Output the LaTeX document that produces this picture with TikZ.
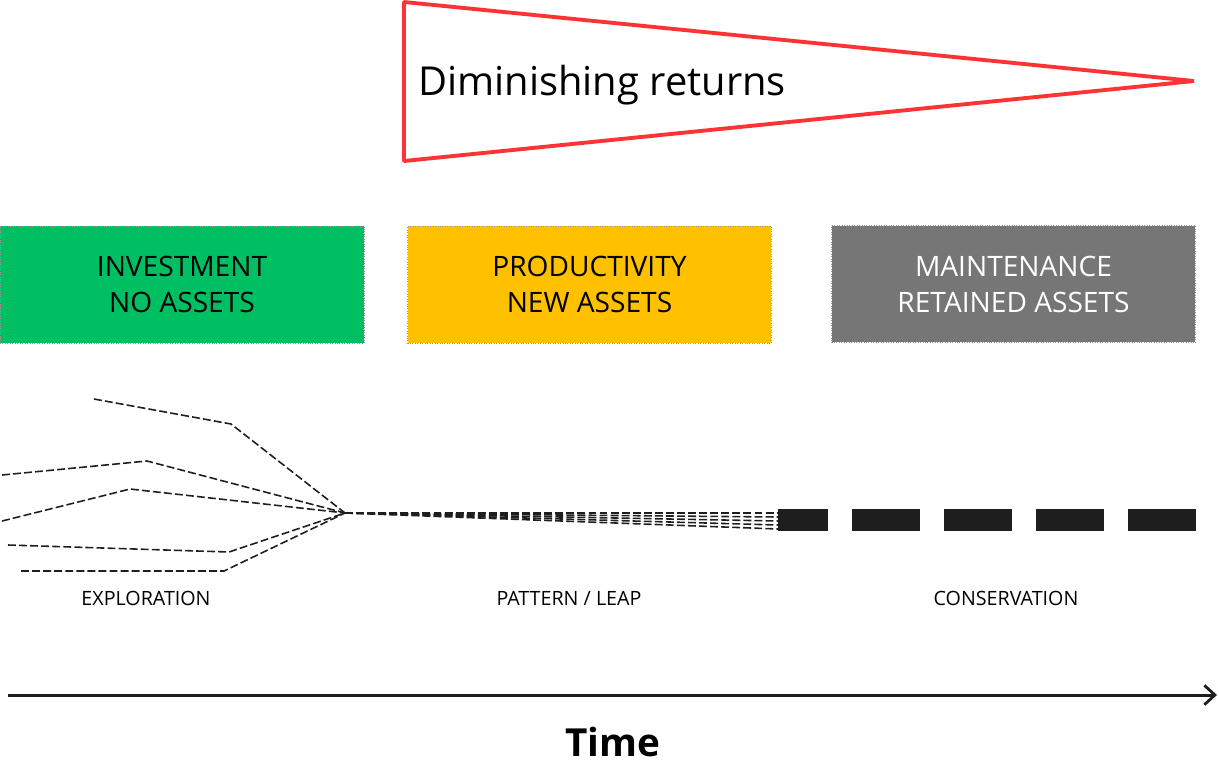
\documentclass[tikz,border=0pt]{standalone}
\usepackage{fontspec}
\setmainfont{Open Sans}
\usetikzlibrary{positioning,arrows.meta}
\definecolor{phasegreen}{HTML}{00BF63}
\definecolor{phaseyellow}{HTML}{FFC000}
\definecolor{phasegray}{HTML}{767676}
\definecolor{dimred}{HTML}{FF3333}
\definecolor{trailink}{HTML}{1E1E1E}
\tikzset{
  phase/.style={draw=gray!80,densely dotted,thin,minimum width=7.28cm,
            minimum height=2.34cm,align=center,inner sep=0pt,
            font=\fontsize{16}{20.5}\selectfont},
  phaselbl/.style={font=\fontsize{11.2}{13}\selectfont,inner sep=0pt},
  trail/.style={trailink,line width=0.9pt,dash pattern=on 4.5pt off 1.8pt},
  leap/.style={trailink,line width=12.5pt,dash pattern=on 1.36cm off 0.48cm,
            dash phase=0.36cm},
  timeaxis/.style={-{Straight Barb[length=6pt,width=11pt,line width=1.6pt]},
            line width=1.7pt,trailink},
}

\begin{document}
\begin{tikzpicture}[x=0.02cm,y=-0.02cm]
  \useasboundingbox (0,0) rectangle (1219,774);
  % diminishing returns wedge
  \draw[dimred,line width=2.2pt,line join=bevel] (404,2) -- (1194,81) -- (404,161) -- cycle;
  \node[anchor=base west,font=\fontsize{22.7}{26}\selectfont,inner sep=0pt] (dimret) at (418,95) {Diminishing returns};
  % phases
  \node[phase,fill=phasegreen] (invest) at (182,284.5) {INVESTMENT\\NO ASSETS};
  \node[phase,fill=phaseyellow] (produc) at (589.5,284.5) {PRODUCTIVITY\\NEW ASSETS};
  \node[phase,fill=phasegray,text=white] (maint) at (1013.5,284) {MAINTENANCE\\RETAINED ASSETS};
  % exploration paths
  \coordinate (hub) at (345,513);
  \foreach \i/\sx/\sy/\bx/\by in {1/94/399/231/424, 2/2/475/147/461,
      3/2/521/130/489, 4/8/545/229/552, 5/21/571/224/571} {
    \coordinate (s\i) at (\sx,\sy);
    \coordinate (b\i) at (\bx,\by);
    \draw[trail] (s\i) -- (b\i) -- (hub);
  }
  \foreach \i/\ey in {1/513,2/517,3/521,4/525,5/529} {
    \coordinate (e\i) at (778,\ey);
    \draw[trail] (hub) -- (e\i);
  }
  \coordinate (leapstart) at (778,520);
  \coordinate (cons) at (1196,520);
  \draw[leap] (leapstart) -- (cons);
  % stage labels
  \node[phaselbl] (explore) at (146,598) {EXPLORATION};
  \node[phaselbl] (pattern) at (569,598) {PATTERN / LEAP};
  \node[phaselbl] (conserve) at (1006,598) {CONSERVATION};
  % time axis
  \coordinate (t0) at (8,695);
  \coordinate (t1) at (1217,695);
  \draw[timeaxis] (t0) -- (t1);
  \node[font=\fontsize{22}{26}\selectfont\bfseries] (time) at (613,742) {Time};
\end{tikzpicture}
\end{document}
